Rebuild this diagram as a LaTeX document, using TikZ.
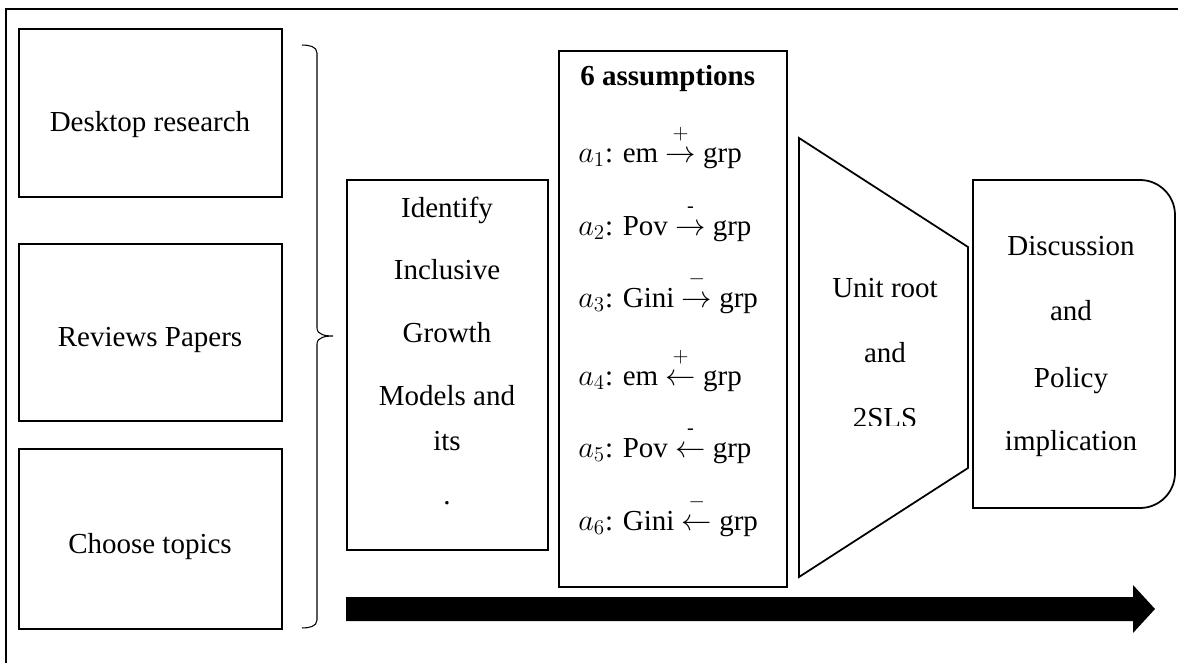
\documentclass[tikz,border=0pt]{standalone}
\usepackage{amsmath}
\usepackage{fontspec}
\setmainfont{Liberation Serif}
\newcommand{\sarr}[2]{\mathrel{\overset{\raisebox{0.2em}{$\scriptstyle #1$}}{#2}}}

\begin{document}
\begin{tikzpicture}[x=0.02cm,y=-0.02cm,
        txt/.style={font=\fontsize{16.5}{20}\selectfont, inner sep=0pt, text height=0.7em, text depth=0.22em},
        stepbox/.style={draw, line width=0.7pt, inner sep=0pt}]
        \useasboundingbox (0,0) rectangle (1178,663);
        % outer frame
        \draw[line width=1.2pt] (6,663) -- (6,9) -- (1178,9);

        % left column
        \node[stepbox, minimum width=5.26cm, minimum height=3.36cm] (deskbox) at (150.5,113) {};
        \node[txt] (desktxt) at (150,127) {Desktop research};
        \node[stepbox, minimum width=5.26cm, minimum height=3.54cm] (reviewbox) at (150.5,332.5) {};
        \node[txt] (reviewtxt) at (150,342) {Reviews Papers};
        \node[stepbox, minimum width=5.26cm, minimum height=3.6cm] (topicbox) at (150.5,539) {};
        \node[txt] (topictxt) at (150,549) {Choose topics};

        % brace
        \draw[line width=0.6pt] (302,45) to[out=0,in=90] (317,53) -- (317,328)
            to[out=-90,in=180] (333,336) to[out=180,in=90] (317,344) -- (317,620)
            to[out=-90,in=0] (302,628);

        % identify box
        \node[stepbox, minimum width=4.02cm, minimum height=7.4cm] (identbox) at (447.5,365) {};
        \foreach \word/\yy [count=\i] in {Identify/213, Inclusive/275, Growth/338, Models and/401, its/446}
            \node[txt] (ident\i) at (447,\yy) {\word};
        \node[txt] (identdot) at (447,500) {.};

        % assumptions
        \node[stepbox, minimum width=4.56cm, minimum height=10.72cm] (assumbox) at (673,319) {};
        \node[txt, anchor=west] (assumhead) at (580,81) {\bfseries 6 assumptions};
        \node[txt, anchor=west] (asm1) at (578,158) {$a_1$: em $\sarr{+}{\rightarrow}$ grp};
        \node[txt, anchor=west] (asm2) at (578,231) {$a_2$: Pov $\sarr{\text{-}}{\rightarrow}$ grp};
        \node[txt, anchor=west] (asm3) at (578,303) {$a_3$: Gini $\sarr{-}{\rightarrow}$ grp};
        \node[txt, anchor=west] (asm4) at (578,381) {$a_4$: em $\sarr{+}{\leftarrow}$ grp};
        \node[txt, anchor=west] (asm5) at (578,453) {$a_5$: Pov $\sarr{\text{-}}{\leftarrow}$ grp};
        \node[txt, anchor=west] (asm6) at (578,526) {$a_6$: Gini $\sarr{-}{\leftarrow}$ grp};

        % unit root funnel
        \draw[line width=1pt] (799,138) -- (968,247) -- (968,468) -- (799,577) -- cycle;
        \node[txt] (unit1) at (885,293) {Unit root};
        \node[txt] (unit2) at (885,358) {and};
        \begin{scope}
            \clip (800,300) rectangle (968,425);
            \node[txt] (unit3) at (885,423) {2SLS};
        \end{scope}

        % discussion box
        \draw[line width=1pt] (973,180) [rounded corners=0.7cm] -- (1175,180) -- (1175,508)
            [sharp corners] -- (973,508) -- cycle;
        \node[txt] (disc1) at (1071,251) {Discussion};
        \node[txt] (disc2) at (1071,316) {and};
        \node[txt] (disc3) at (1071,383) {Policy};
        \node[txt] (disc4) at (1071,446) {implication};

        % big arrow
        \fill (346,597) -- (1133,597) -- (1133,585) -- (1155,609) -- (1133,633)
            -- (1133,621) -- (346,621) -- cycle;
\end{tikzpicture}
\end{document}
